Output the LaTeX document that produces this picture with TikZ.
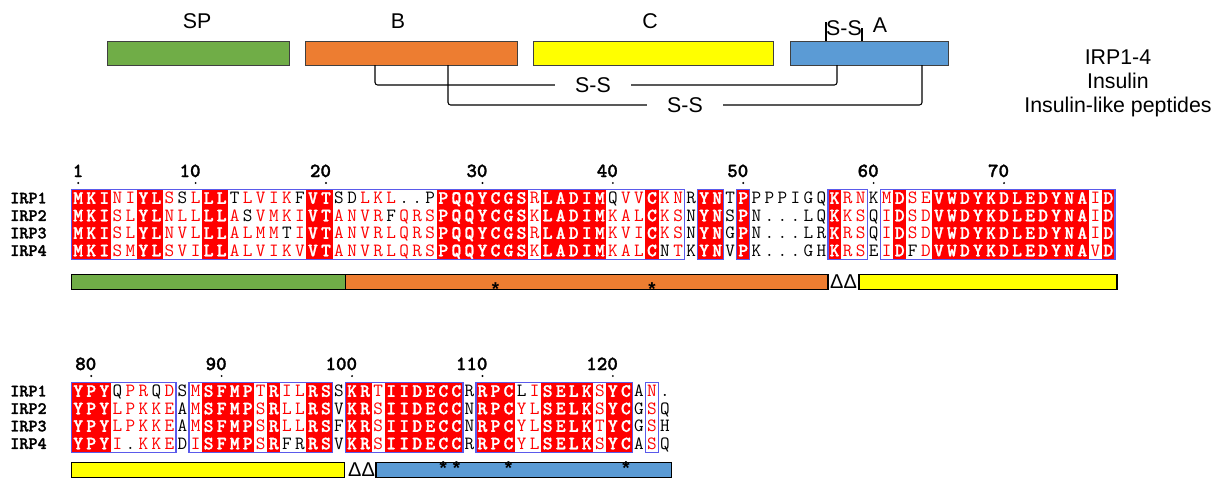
\documentclass[tikz,border=0pt]{standalone}
\usepackage{fontspec}
\setmainfont{Liberation Sans}
\newfontfamily\seqbold[FakeBold=1.5]{lmmonolt10-bold.otf}
\usetikzlibrary{positioning}

\definecolor{spgreen}{HTML}{70AD47}
\definecolor{chainB}{HTML}{ED7D31}
\definecolor{chainC}{HTML}{FFFF00}
\definecolor{chainA}{HTML}{5B9BD5}
\definecolor{simframe}{RGB}{90,90,235}

\tikzset{
  region/.style={draw=black!75, line width=0.8pt, inner sep=0pt, anchor=north west, minimum height=18pt},
  lab/.style={font=\fontsize{16pt}{19pt}\selectfont, inner sep=0pt, anchor=base},
  sslab/.style={lab, anchor=center, inner xsep=15pt, inner ysep=1pt},
  bond/.style={line width=0.8pt, rounded corners=2pt},
  res/.style={inner sep=0pt, anchor=base, font=\ttfamily\fontsize{14pt}{14pt}\selectfont},
  resw/.style={res, text=white, font=\seqbold\fontsize{14pt}{14pt}\selectfont},
  resr/.style={res, text=red},
  resk/.style={res, text=black},
  seqname/.style={inner sep=0pt, anchor=base west, font=\seqbold\fontsize{13pt}{13pt}\selectfont},
  num/.style={inner sep=0pt, anchor=base east, font=\seqbold\fontsize{15pt}{15pt}\selectfont},
  simbox/.style={draw=simframe, line width=0.9pt},
  segbar/.style={draw=black, line width=0.9pt},
  cysmark/.style={inner sep=0pt, anchor=base, font=\bfseries\fontsize{14pt}{14pt}\selectfont},
  gapmark/.style={inner sep=0pt, font=\fontsize{15pt}{15pt}\selectfont}
}

% alignment grid
\newcommand{\colx}{71.7}
\newcommand{\colw}{13.04}
\newcommand{\seqline}[4]{%
  \foreach \aa/\cl [count=\ci] in {#4}
    \node[res\cl] (s#1-#2-\ci) at ({\colx+(\ci-0.5)*\colw},{#3+14.45+17.5*(#2-1)}) {\aa};
}

\begin{document}
\begin{tikzpicture}[x=0.75pt, y=-0.75pt]
	\useasboundingbox (0,0) rectangle (1225,479);

	% Precursor scheme
	\node[region, fill=spgreen, minimum width=136.5pt] (sp) at (107,41) {};
	\node[region, fill=chainB, minimum width=159pt] (b) at (305,41) {};
	\node[region, fill=chainC, minimum width=180pt] (c) at (533,41) {};
	\node[region, fill=chainA, minimum width=118.5pt] (a) at (790,41) {};

	\node[lab] (sp-lab) at (197,28) {SP};
	\node[lab] (b-lab) at (398,28) {B};
	\node[lab] (c-lab) at (650,28) {C};
	\node[lab] (a-lab) at (880,32) {A};
	\node[lab] (a-ss) at (844,35) {S-S};

	% Disulfide bonds
	\coordinate (a-tl) at (826,41);
	\coordinate (a-tl-top) at (826,22);
	\coordinate (a-tr) at (862,41);
	\coordinate (a-tr-top) at (862,28);
	\draw[bond] (a-tl) -- (a-tl-top);
	\draw[bond] (a-tr) -- (a-tr-top);

	\coordinate (b-cys1) at (375,65);
	\coordinate (a-cys1) at (837,65);
	\node[sslab] (ss1) at (593,85) {S-S};
	\draw[bond] (b-cys1) |- (ss1.west);
	\draw[bond] (ss1.east) -| (a-cys1);

	\coordinate (b-cys2) at (448,65);
	\coordinate (a-cys2) at (922,65);
	\node[sslab] (ss2) at (685,105) {S-S};
	\draw[bond] (b-cys2) |- (ss2.west);
	\draw[bond] (ss2.east) -| (a-cys2);

	\node[lab] (t-irp) at (1118,64) {IRP1-4};
	\node[lab] (t-ins) at (1118,88) {Insulin};
	\node[lab] (t-ilp) at (1118,112) {Insulin-like peptides};

	% Block 1: conserved columns and frames
	\foreach \a/\b in {1/3,6/7,11/12,19/20,29/35,37/41,45/45,49/50,52/52,59/59,64/64,67/78,80/80}
		\fill[red] ({\colx+(\a-1)*\colw},189.3) rectangle ({\colx+\b*\colw},259.3);
	\foreach \a/\b in {1/47,49/50,52/52,59/61,63/80}
		\draw[simbox] ({\colx+(\a-1)*\colw},189.3) rectangle ({\colx+\b*\colw},259.3);

	% Block 1: numbering
	\foreach \nr/\ci in {1/1,10/10,20/20,30/32,40/42,50/52,60/62,70/72} {
		\node[num] (num-\nr) at ({\colx+(\ci-0.5)*\colw+5.25},177) {\nr};
		\fill ({\colx+(\ci-0.5)*\colw},183) circle (0.8pt);
	}

	% Block 1: sequences
	\seqline{1}{1}{189.3}{M/w,K/w,I/w,N/r,I/r,Y/w,L/w,S/r,S/k,L/r,L/w,L/w,T/k,L/r,V/r,I/r,K/r,F/k,V/w,T/w,S/k,D/k,L/r,K/r,L/r,./k,./k,P/k,P/w,Q/w,Q/w,Y/w,C/w,G/w,S/w,R/r,L/w,A/w,D/w,I/w,M/w,Q/k,V/r,V/r,C/w,K/r,N/r,R/k,Y/w,N/w,T/k,P/w,P/k,P/k,P/k,I/k,G/k,Q/k,K/w,R/r,N/r,K/k,M/r,D/w,S/r,E/r,V/w,W/w,D/w,Y/w,K/w,D/w,L/w,E/w,D/w,Y/w,N/w,A/w,I/r,D/w}
	\seqline{1}{2}{189.3}{M/w,K/w,I/w,S/r,L/r,Y/w,L/w,N/r,L/r,L/r,L/w,L/w,A/r,S/k,V/r,M/r,K/r,I/r,V/w,T/w,A/r,N/r,V/r,R/r,F/k,Q/r,R/r,S/r,P/w,Q/w,Q/w,Y/w,C/w,G/w,S/w,K/r,L/w,A/w,D/w,I/w,M/w,K/r,A/r,L/r,C/w,K/r,S/r,N/k,Y/w,N/w,S/k,P/w,N/k,./k,./k,./k,L/k,Q/k,K/w,K/r,S/r,Q/k,I/r,D/w,S/r,D/r,V/w,W/w,D/w,Y/w,K/w,D/w,L/w,E/w,D/w,Y/w,N/w,A/w,I/r,D/w}
	\seqline{1}{3}{189.3}{M/w,K/w,I/w,S/r,L/r,Y/w,L/w,N/r,V/r,L/r,L/w,L/w,A/r,L/r,M/r,M/r,T/k,I/r,V/w,T/w,A/r,N/r,V/r,R/r,L/r,Q/r,R/r,S/r,P/w,Q/w,Q/w,Y/w,C/w,G/w,S/w,R/r,L/w,A/w,D/w,I/w,M/w,K/r,V/r,I/r,C/w,K/r,S/r,N/k,Y/w,N/w,G/k,P/w,N/k,./k,./k,./k,L/k,R/k,K/w,R/r,S/r,Q/k,I/r,D/w,S/r,D/r,V/w,W/w,D/w,Y/w,K/w,D/w,L/w,E/w,D/w,Y/w,N/w,A/w,I/r,D/w}
	\seqline{1}{4}{189.3}{M/w,K/w,I/w,S/r,M/r,Y/w,L/w,S/r,V/r,I/r,L/w,L/w,A/r,L/r,V/r,I/r,K/r,V/r,V/w,T/w,A/r,N/r,V/r,R/r,L/r,Q/r,R/r,S/r,P/w,Q/w,Q/w,Y/w,C/w,G/w,S/w,K/r,L/w,A/w,D/w,I/w,M/w,K/r,A/r,L/r,C/w,N/k,T/r,K/k,Y/w,N/w,V/k,P/w,K/k,./k,./k,./k,G/k,H/k,K/w,R/r,S/r,E/k,I/r,D/w,F/k,D/r,V/w,W/w,D/w,Y/w,K/w,D/w,L/w,E/w,D/w,Y/w,N/w,A/w,V/r,D/w}

	% Block 2: conserved columns and frames
	\foreach \a/\b in {1/3,11/14,16/16,19/20,22/23,25/30,32/34,37/40,42/43}
		\fill[red] ({\colx+(\a-1)*\colw},382.3) rectangle ({\colx+\b*\colw},452.3);
	\foreach \a/\b in {1/8,10/20,22/30,32/43,45/45}
		\draw[simbox] ({\colx+(\a-1)*\colw},382.3) rectangle ({\colx+\b*\colw},452.3);

	% Block 2: numbering
	\foreach \nr/\ci in {80/2,90/12,100/22,110/32,120/42} {
		\node[num] (num-\nr) at ({\colx+(\ci-0.5)*\colw+5.25},370) {\nr};
		\fill ({\colx+(\ci-0.5)*\colw},376) circle (0.8pt);
	}

	% Block 2: sequences
	\seqline{2}{1}{382.3}{Y/w,P/w,Y/w,Q/k,P/r,R/r,Q/k,D/r,S/k,M/r,S/w,F/w,M/w,P/w,T/r,R/w,I/r,L/r,R/w,S/w,S/k,K/w,R/w,T/r,I/w,I/w,D/w,E/w,C/w,C/w,R/k,R/w,P/w,C/w,L/k,I/r,S/w,E/w,L/w,K/w,S/r,Y/w,C/w,A/k,N/r,./k}
	\seqline{2}{2}{382.3}{Y/w,P/w,Y/w,L/r,P/r,K/r,K/r,E/r,A/k,M/r,S/w,F/w,M/w,P/w,S/r,R/w,L/r,L/r,R/w,S/w,V/k,K/w,R/w,S/r,I/w,I/w,D/w,E/w,C/w,C/w,N/k,R/w,P/w,C/w,Y/r,L/r,S/w,E/w,L/w,K/w,S/r,Y/w,C/w,G/k,S/r,Q/k}
	\seqline{2}{3}{382.3}{Y/w,P/w,Y/w,L/r,P/r,K/r,K/r,E/r,A/k,M/r,S/w,F/w,M/w,P/w,S/r,R/w,L/r,L/r,R/w,S/w,F/k,K/w,R/w,S/r,I/w,I/w,D/w,E/w,C/w,C/w,N/k,R/w,P/w,C/w,Y/r,L/r,S/w,E/w,L/w,K/w,T/r,Y/w,C/w,G/k,S/r,H/k}
	\seqline{2}{4}{382.3}{Y/w,P/w,Y/w,I/r,./k,K/r,K/r,E/r,D/k,I/r,S/w,F/w,M/w,P/w,S/r,R/w,F/k,R/k,R/w,S/w,V/k,K/w,R/w,S/r,I/w,I/w,D/w,E/w,C/w,C/w,R/k,R/w,P/w,C/w,Y/r,L/r,S/w,E/w,L/w,K/w,S/r,Y/w,C/w,A/k,S/r,Q/k}

	% Sequence names
	\foreach \r in {1,...,4} {
		\node[seqname] (name1-\r) at (10,{203.4+17.5*(\r-1)}) {IRP\r};
		\node[seqname] (name2-\r) at (10,{396.4+17.5*(\r-1)}) {IRP\r};
	}

	% Chain bars under the alignment
	\draw[segbar, fill=spgreen] (71.7,274.3) rectangle (345.5,289.3);
	\draw[segbar, fill=chainB] (345.5,274.3) rectangle (828,289.3);
	\node[gapmark] (gap1) at (843.5,282) {ΔΔ};
	\draw[segbar, fill=chainC] (859,274.3) rectangle (1117,289.3);
	\foreach \ci in {33,45}
		\node[cysmark] (cys1-\ci) at ({\colx+(\ci-0.5)*\colw},295.5) {*};

	\draw[segbar, fill=chainC] (71.7,462.3) rectangle (344.3,477.7);
	\node[gapmark] (gap2) at (361.5,470) {ΔΔ};
	\draw[segbar, fill=chainA] (376,462.3) rectangle (671.7,477.7);
	\foreach \ci in {29,30,34,43}
		\node[cysmark] (cys2-\ci) at ({\colx+(\ci-0.5)*\colw},474.8) {*};
\end{tikzpicture}
\end{document}
